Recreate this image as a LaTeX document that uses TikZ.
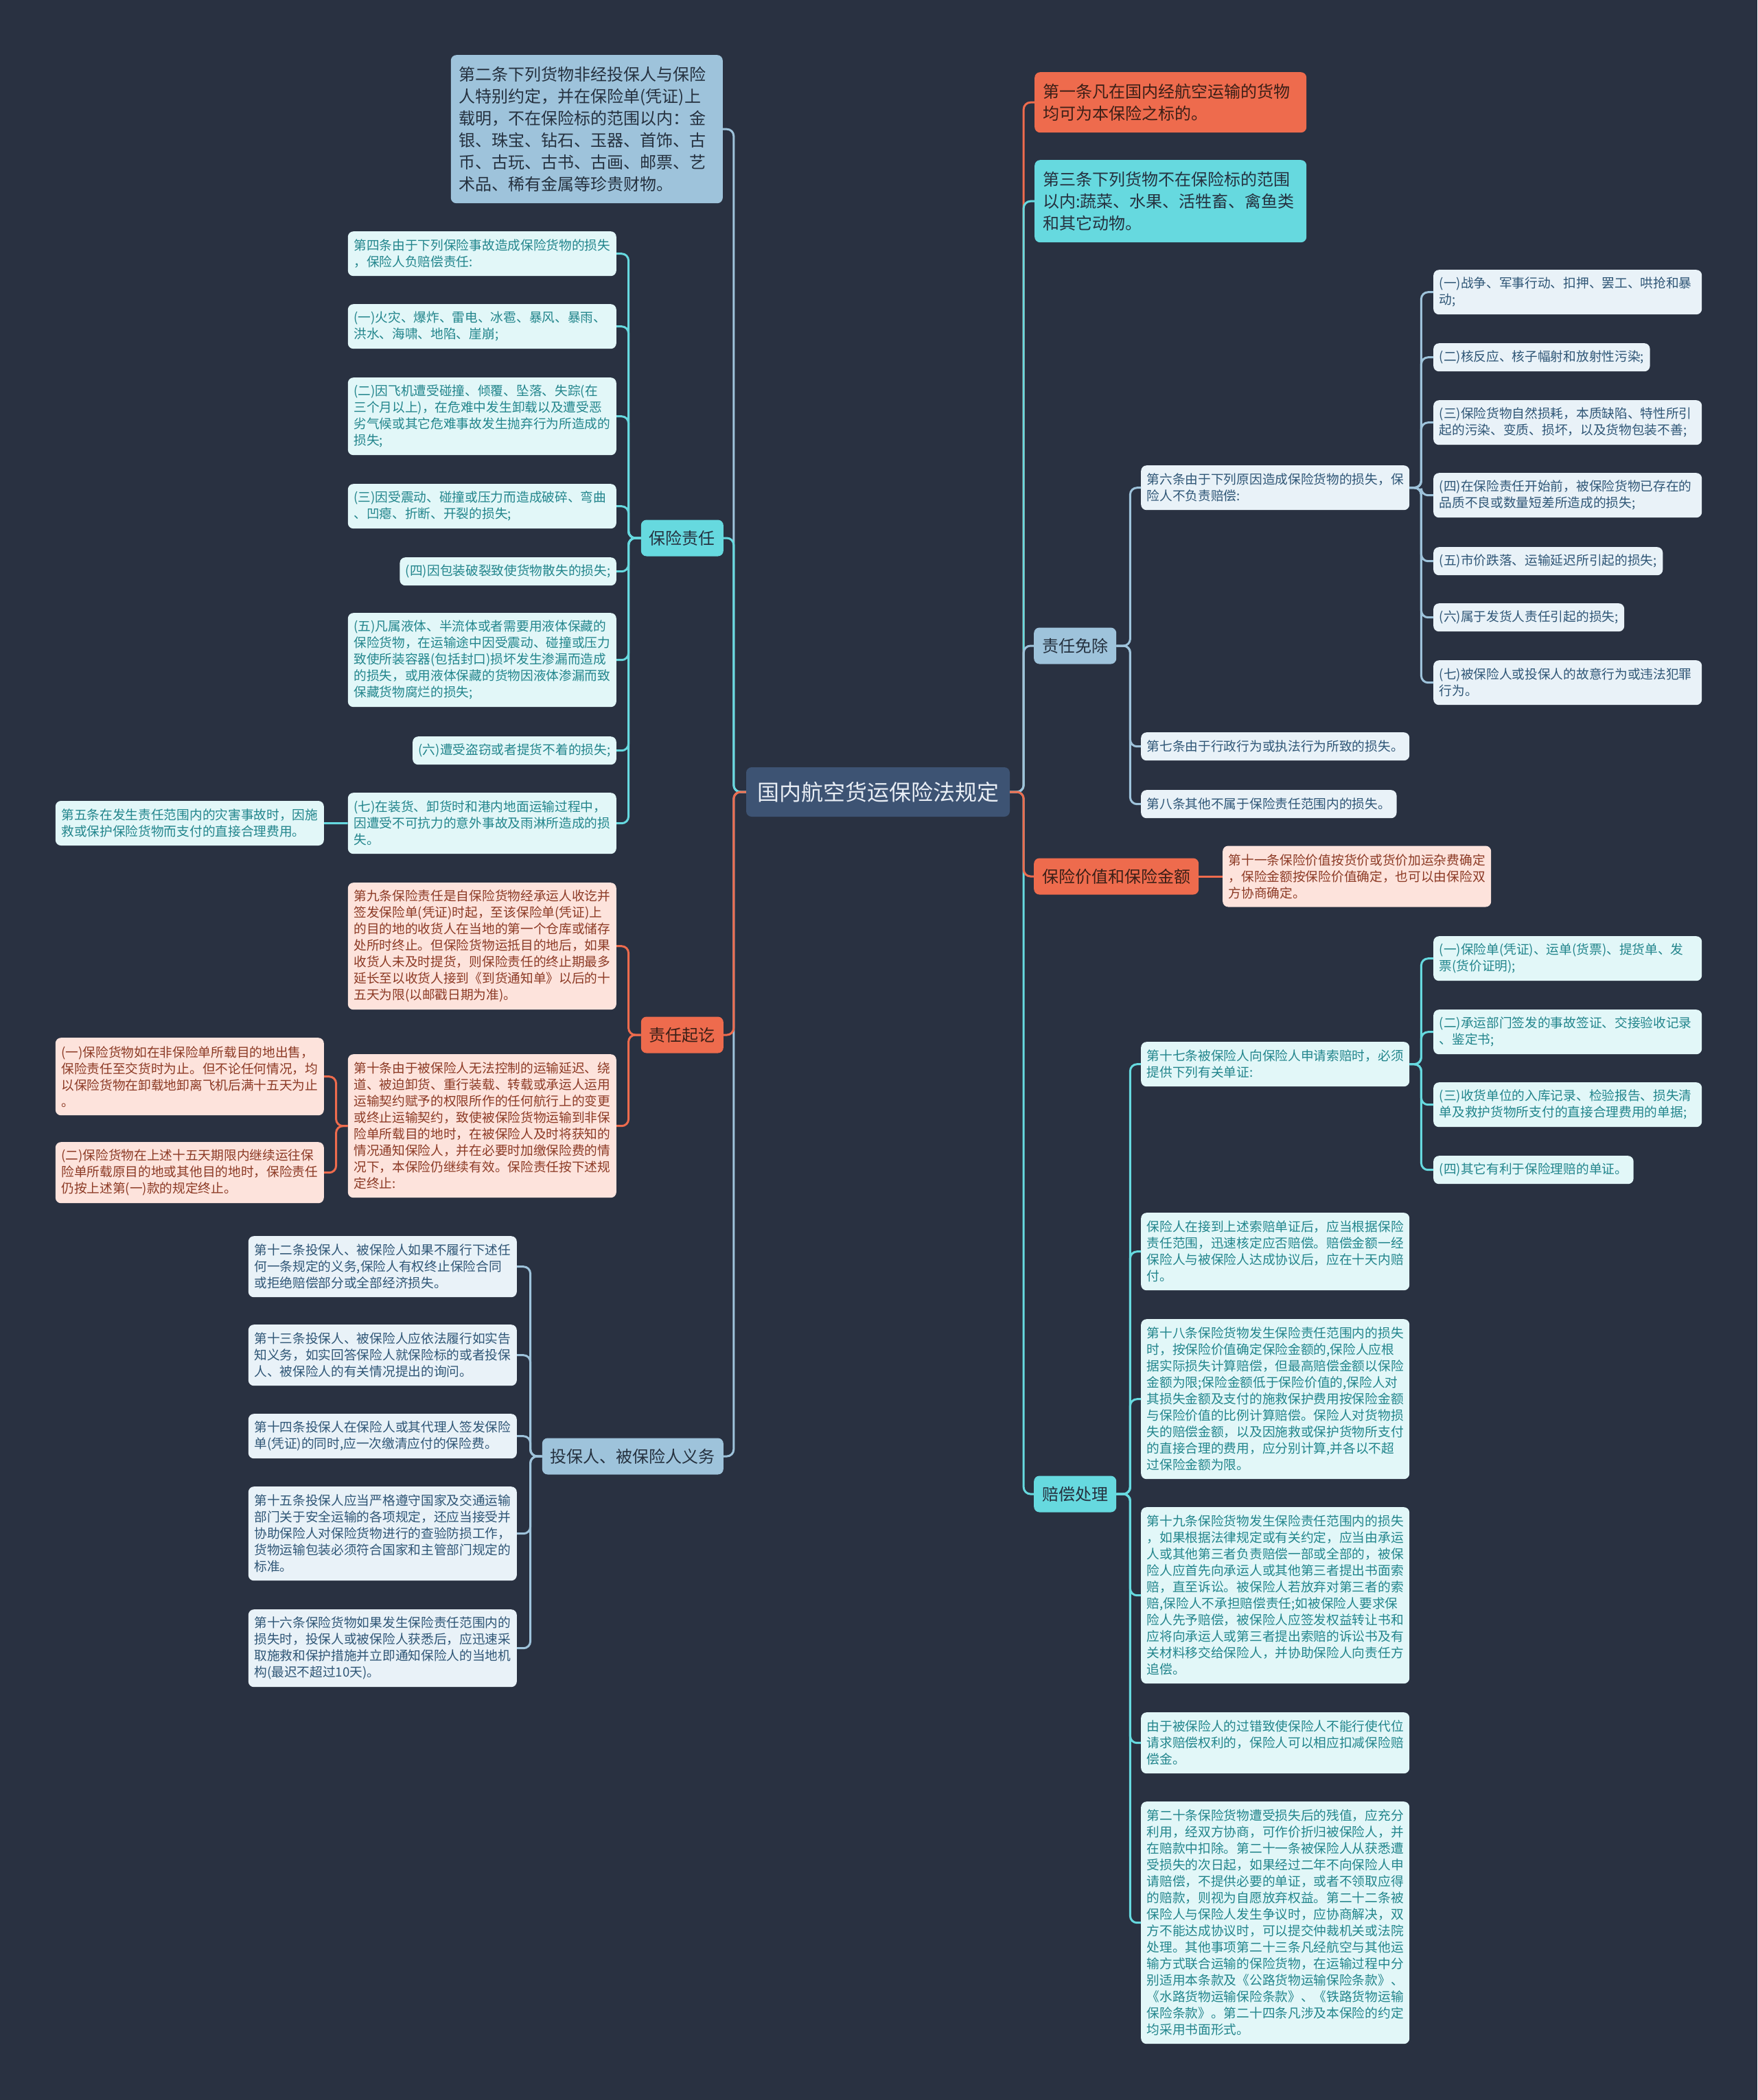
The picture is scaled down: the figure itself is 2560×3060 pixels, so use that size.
\documentclass[tikz,border=0pt]{standalone}
\usepackage{fontspec}
\newfontfamily\cjk{Noto Sans CJK SC}
\usetikzlibrary{calc}
\definecolor{bg}{HTML}{293141}
\definecolor{rootfill}{HTML}{3D5373}
\definecolor{roottext}{HTML}{E9EEF5}
\definecolor{orc}{HTML}{EE6B4D}
\definecolor{cyc}{HTML}{66D9DF}
\definecolor{blc}{HTML}{9EC3DB}
\definecolor{cyfill}{HTML}{E2F7F8}
\definecolor{cytext}{HTML}{22858C}
\definecolor{pkfill}{HTML}{FDE3DC}
\definecolor{pktext}{HTML}{8C3A25}
\definecolor{blfill}{HTML}{E9F2F8}
\definecolor{bltext}{HTML}{2F5676}
\definecolor{darktext}{HTML}{25313F}
\definecolor{ortext}{HTML}{3B1F17}
\begin{document}
\begin{tikzpicture}[x=1pt,y=-1pt,
  box/.style={rounded corners=8, inner xsep=8.5, inner ysep=4, font=\cjk\fontsize{18.7}{24}\selectfont, align=left},
  tw/.style={text width=374},
  nl/.style={minimum height={24*#1+17}},
  cy/.style={box, fill=cyfill, text=cytext},
  pk/.style={box, fill=pkfill, text=pktext},
  bl/.style={box, fill=blfill, text=bltext},
  big/.style={rounded corners=8, inner xsep=12, inner ysep=4, font=\cjk\fontsize{24}{32}\selectfont, align=left, text width=372},
  bnl/.style={minimum height={32*#1+24}},
  branch/.style={rounded corners=8, inner xsep=12, inner ysep=4, minimum height=53, font=\cjk\fontsize{24}{30}\selectfont},
  rootbox/.style={rounded corners=8, inner xsep=16, inner ysep=4, minimum height=72, fill=rootfill, text=roottext, font=\cjk\fontsize{32}{40}\selectfont},
  conn/.style={line width=3, rounded corners=10}
]
\fill[bg] (0,0) rectangle (2560,3060);
\useasboundingbox (0,0) rectangle (2560,3060);

% root
\node[rootbox] (root) at (1279,1154) {国内航空货运保险法规定};

% ---------- left branches ----------
\node[big, bnl=6, fill=blc, text=darktext, anchor=north east] (t2) at (1053,80) {第二条下列货物非经投保人与保险\\人特别约定，并在保险单(凭证)上\\载明，不在保险标的范围以内：金\\银、珠宝、钻石、玉器、首饰、古\\币、古玩、古书、古画、邮票、艺\\术品、稀有金属等珍贵财物。};
\node[branch, fill=cyc, text=darktext, anchor=east] (bx) at (1054,784) {保险责任};
\node[branch, fill=orc, text=ortext, anchor=east] (qz) at (1054,1508) {责任起讫};
\node[branch, fill=blc, text=darktext, anchor=east] (tb) at (1054,2122) {投保人、被保险人义务};

% 保险责任 children
\node[cy,tw,nl=2,anchor=north east] (a1) at (898,337) {第四条由于下列保险事故造成保险货物的损失\\，保险人负赔偿责任:};
\node[cy,tw,nl=2,anchor=north east] (a2) at (898,443) {(一)火灾、爆炸、雷电、冰雹、暴风、暴雨、\\洪水、海啸、地陷、崖崩;};
\node[cy,tw,nl=4,anchor=north east] (a3) at (898,550) {(二)因飞机遭受碰撞、倾覆、坠落、失踪(在\\三个月以上)，在危难中发生卸载以及遭受恶\\劣气候或其它危难事故发生抛弃行为所造成的\\损失;};
\node[cy,tw,nl=2,anchor=north east] (a4) at (898,705) {(三)因受震动、碰撞或压力而造成破碎、弯曲\\、凹瘪、折断、开裂的损失;};
\node[cy,nl=1,anchor=north east] (a5) at (898,812) {(四)因包装破裂致使货物散失的损失;};
\node[cy,tw,nl=5,anchor=north east] (a6) at (898,893) {(五)凡属液体、半流体或者需要用液体保藏的\\保险货物，在运输途中因受震动、碰撞或压力\\致使所装容器(包括封口)损坏发生渗漏而造成\\的损失，或用液体保藏的货物因液体渗漏而致\\保藏货物腐烂的损失;};
\node[cy,nl=1,anchor=north east] (a7) at (898,1073) {(六)遭受盗窃或者提货不着的损失;};
\node[cy,tw,nl=3,anchor=north east] (a8) at (898,1155) {(七)在装货、卸货时和港内地面运输过程中，\\因遭受不可抗力的意外事故及雨淋所造成的损\\失。};
\node[cy,tw,nl=2,anchor=east] (a9) at (472,1199.5) {第五条在发生责任范围内的灾害事故时，因施\\救或保护保险货物而支付的直接合理费用。};

% 责任起讫 children
\node[pk,tw,nl=7,anchor=north east] (b1) at (898,1286) {第九条保险责任是自保险货物经承运人收讫并\\签发保险单(凭证)时起，至该保险单(凭证)上\\的目的地的收货人在当地的第一个仓库或储存\\处所时终止。但保险货物运抵目的地后，如果\\收货人未及时提货，则保险责任的终止期最多\\延长至以收货人接到《到货通知单》以后的十\\五天为限(以邮戳日期为准)。};
\node[pk,tw,nl=8,anchor=north east] (b2) at (898,1536) {第十条由于被保险人无法控制的运输延迟、绕\\道、被迫卸货、重行装载、转载或承运人运用\\运输契约赋予的权限所作的任何航行上的变更\\或终止运输契约，致使被保险货物运输到非保\\险单所载目的地时，在被保险人及时将获知的\\情况通知保险人，并在必要时加缴保险费的情\\况下，本保险仍继续有效。保险责任按下述规\\定终止:};
\node[pk,tw,nl=4,anchor=north east] (b3) at (472,1512) {(一)保险货物如在非保险单所载目的地出售，\\保险责任至交货时为止。但不论任何情况，均\\以保险货物在卸载地卸离飞机后满十五天为止\\。};
\node[pk,tw,nl=3,anchor=north east] (b4) at (472,1664) {(二)保险货物在上述十五天期限内继续运往保\\险单所载原目的地或其他目的地时，保险责任\\仍按上述第(一)款的规定终止。};

% 投保人 children
\node[bl,tw,nl=3,anchor=north east] (c1) at (753,1801) {第十二条投保人、被保险人如果不履行下述任\\何一条规定的义务,保险人有权终止保险合同\\或拒绝赔偿部分或全部经济损失。};
\node[bl,tw,nl=3,anchor=north east] (c2) at (753,1930) {第十三条投保人、被保险人应依法履行如实告\\知义务，如实回答保险人就保险标的或者投保\\人、被保险人的有关情况提出的询问。};
\node[bl,tw,nl=2,anchor=north east] (c3) at (753,2060) {第十四条投保人在保险人或其代理人签发保险\\单(凭证)的同时,应一次缴清应付的保险费。};
\node[bl,tw,nl=5,anchor=north east] (c4) at (753,2166) {第十五条投保人应当严格遵守国家及交通运输\\部门关于安全运输的各项规定，还应当接受并\\协助保险人对保险货物进行的查验防损工作，\\货物运输包装必须符合国家和主管部门规定的\\标准。};
\node[bl,tw,nl=4,anchor=north east] (c5) at (753,2345) {第十六条保险货物如果发生保险责任范围内的\\损失时，投保人或被保险人获悉后，应迅速采\\取施救和保护措施并立即通知保险人的当地机\\构(最迟不超过10天)。};

% ---------- right branches ----------
\node[big, bnl=2, fill=orc, text=ortext, anchor=north west] (t1) at (1507,105) {第一条凡在国内经航空运输的货物\\均可为本保险之标的。};
\node[big, bnl=3, fill=cyc, text=darktext, anchor=north west] (t3) at (1507,233) {第三条下列货物不在保险标的范围\\以内:蔬菜、水果、活牲畜、禽鱼类\\和其它动物。};
\node[branch, fill=blc, text=darktext, anchor=west] (mc) at (1506,941) {责任免除};
\node[branch, fill=orc, text=ortext, anchor=west] (bj) at (1506,1277) {保险价值和保险金额};
\node[branch, fill=cyc, text=darktext, anchor=west] (pc) at (1506,2177) {赔偿处理};

% 责任免除 children
\node[bl,tw,nl=2,anchor=north west] (m6) at (1662,678) {第六条由于下列原因造成保险货物的损失，保\\险人不负责赔偿:};
\node[bl,nl=1,anchor=north west] (m7) at (1662,1067) {第七条由于行政行为或执法行为所致的损失。};
\node[bl,nl=1,anchor=north west] (m8) at (1662,1151) {第八条其他不属于保险责任范围内的损失。};
\node[bl,tw,nl=2,anchor=north west] (e1) at (2088,393) {(一)战争、军事行动、扣押、罢工、哄抢和暴\\动;};
\node[bl,nl=1,anchor=north west] (e2) at (2088,500) {(二)核反应、核子幅射和放射性污染;};
\node[bl,tw,nl=2,anchor=north west] (e3) at (2088,583) {(三)保险货物自然损耗，本质缺陷、特性所引\\起的污染、变质、损坏，以及货物包装不善;};
\node[bl,tw,nl=2,anchor=north west] (e4) at (2088,689) {(四)在保险责任开始前，被保险货物已存在的\\品质不良或数量短差所造成的损失;};
\node[bl,nl=1,anchor=north west] (e5) at (2088,797) {(五)市价跌落、运输延迟所引起的损失;};
\node[bl,nl=1,anchor=north west] (e6) at (2088,879) {(六)属于发货人责任引起的损失;};
\node[bl,tw,nl=2,anchor=north west] (e7) at (2088,962) {(七)被保险人或投保人的故意行为或违法犯罪\\行为。};

% 保险价值 child
\node[pk,tw,nl=3,anchor=west] (j11) at (1781,1277) {第十一条保险价值按货价或货价加运杂费确定\\，保险金额按保险价值确定，也可以由保险双\\方协商确定。};

% 赔偿处理 children
\node[cy,tw,nl=2,anchor=north west] (p17) at (1662,1518) {第十七条被保险人向保险人申请索赔时，必须\\提供下列有关单证:};
\node[cy,tw,nl=2,anchor=north west] (d1) at (2088,1364) {(一)保险单(凭证)、运单(货票)、提货单、发\\票(货价证明);};
\node[cy,tw,nl=2,anchor=north west] (d2) at (2088,1471) {(二)承运部门签发的事故签证、交接验收记录\\、鉴定书;};
\node[cy,tw,nl=2,anchor=north west] (d3) at (2088,1577) {(三)收货单位的入库记录、检验报告、损失清\\单及救护货物所支付的直接合理费用的单据;};
\node[cy,nl=1,anchor=north west] (d4) at (2088,1684) {(四)其它有利于保险理赔的单证。};
\node[cy,tw,nl=4,anchor=north west] (p1) at (1662,1767) {保险人在接到上述索赔单证后，应当根据保险\\责任范围，迅速核定应否赔偿。赔偿金额一经\\保险人与被保险人达成协议后，应在十天内赔\\付。};
\node[cy,tw,nl=9,anchor=north west] (p18) at (1662,1922) {第十八条保险货物发生保险责任范围内的损失\\时，按保险价值确定保险金额的,保险人应根\\据实际损失计算赔偿，但最高赔偿金额以保险\\金额为限;保险金额低于保险价值的,保险人对\\其损失金额及支付的施救保护费用按保险金额\\与保险价值的比例计算赔偿。保险人对货物损\\失的赔偿金额，以及因施救或保护货物所支付\\的直接合理的费用，应分别计算,并各以不超\\过保险金额为限。};
\node[cy,tw,nl=10,anchor=north west] (p19) at (1662,2196) {第十九条保险货物发生保险责任范围内的损失\\，如果根据法律规定或有关约定，应当由承运\\人或其他第三者负责赔偿一部或全部的，被保\\险人应首先向承运人或其他第三者提出书面索\\赔，直至诉讼。被保险人若放弃对第三者的索\\赔,保险人不承担赔偿责任;如被保险人要求保\\险人先予赔偿，被保险人应签发权益转让书和\\应将向承运人或第三者提出索赔的诉讼书及有\\关材料移交给保险人，并协助保险人向责任方\\追偿。};
\node[cy,tw,nl=3,anchor=north west] (p2) at (1662,2495) {由于被保险人的过错致使保险人不能行使代位\\请求赔偿权利的，保险人可以相应扣减保险赔\\偿金。};
\node[cy,tw,nl=14,anchor=north west] (p20) at (1662,2625) {第二十条保险货物遭受损失后的残值，应充分\\利用，经双方协商，可作价折归被保险人，并\\在赔款中扣除。第二十一条被保险人从获悉遭\\受损失的次日起，如果经过二年不向保险人申\\请赔偿，不提供必要的单证，或者不领取应得\\的赔款，则视为自愿放弃权益。第二十二条被\\保险人与保险人发生争议时，应协商解决，双\\方不能达成协议时，可以提交仲裁机关或法院\\处理。其他事项第二十三条凡经航空与其他运\\输方式联合运输的保险货物，在运输过程中分\\别适用本条款及《公路货物运输保险条款》、\\《水路货物运输保险条款》、《铁路货物运输\\保险条款》。第二十四条凡涉及本保险的约定\\均采用书面形式。};

% ---------- connectors ----------
\draw[conn, blc] (root.west) -- ++(-18,0) |- (t2.east);
\draw[conn, blc] (root.west) -- ++(-18,0) |- (tb.east);
\draw[conn, cyc] (root.west) -- ++(-18,0) |- (bx.east);
\draw[conn, orc] (root.west) -- ++(-18,0) |- (qz.east);

\draw[conn, orc] (root.east) -- ++(20,0) |- (t1.west);
\draw[conn, cyc] (root.east) -- ++(20,0) |- (t3.west);
\draw[conn, blc] (root.east) -- ++(20,0) |- (mc.west);
\draw[conn, cyc] (root.east) -- ++(20,0) |- (pc.west);
\draw[conn, orc] (root.east) -- ++(20,0) |- (bj.west);

\foreach \c in {a1,a2,a3,a4,a5,a6,a7,a8}
  \draw[conn, cyc] (bx.west) -- ++(-18,0) |- (\c.east);
\draw[conn, cyc] (a8.west) -- (a9.east);

\foreach \c in {b1,b2}
  \draw[conn, orc] (qz.west) -- ++(-18,0) |- (\c.east);
\foreach \c in {b3,b4}
  \draw[conn, orc] (b2.west) -- ++(-17,0) |- (\c.east);

\foreach \c in {c1,c2,c3,c4,c5}
  \draw[conn, blc] (tb.west) -- ++(-17,0) |- (\c.east);

\foreach \c in {m6,m7,m8}
  \draw[conn, blc] (mc.east) -- ++(20,0) |- (\c.west);
\foreach \c in {e1,e2,e3,e4,e5,e6,e7}
  \draw[conn, blc] (m6.east) -- ++(17,0) |- (\c.west);

\draw[conn, orc] (bj.east) -- (j11.west);

\foreach \c in {p17,p1,p18,p19,p2,p20}
  \draw[conn, cyc] (pc.east) -- ++(20,0) |- (\c.west);
\foreach \c in {d1,d2,d3,d4}
  \draw[conn, cyc] (p17.east) -- ++(17,0) |- (\c.west);
\end{tikzpicture}
\end{document}
